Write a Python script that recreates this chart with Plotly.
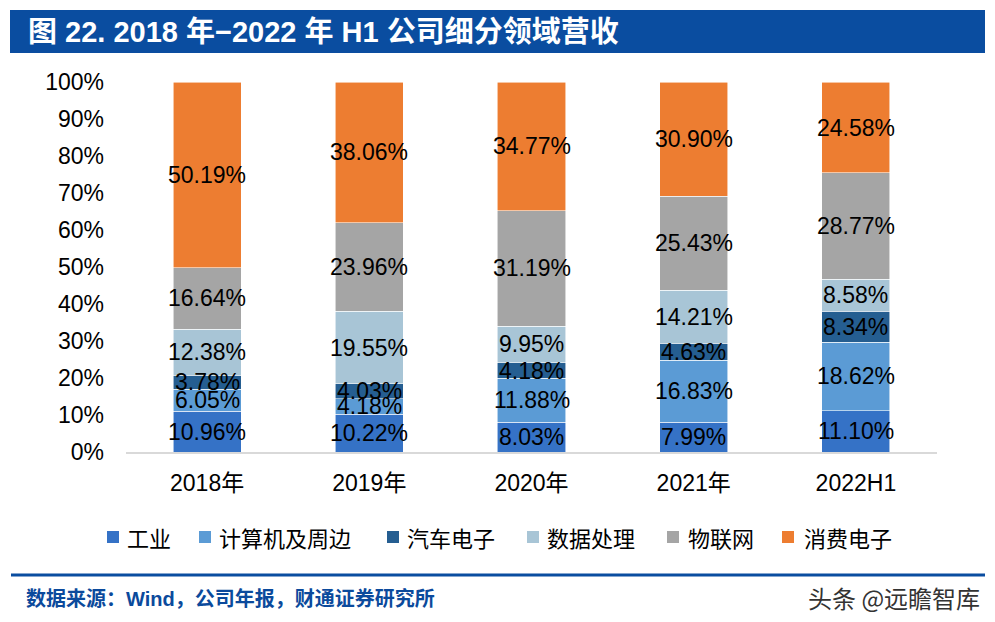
import plotly.graph_objects as go

categories = ["2018年", "2019年", "2020年", "2021年", "2022H1"]
series_names = ["工业", "计算机及周边", "汽车电子", "数据处理", "物联网", "消费电子"]
industrial = [10.96, 10.22, 8.03, 7.99, 11.10]
computer = [6.05, 4.18, 11.88, 16.83, 18.62]
auto = [3.78, 4.03, 4.18, 4.63, 8.34]
data_proc = [12.38, 19.55, 9.95, 14.21, 8.58]
iot = [16.64, 23.96, 31.19, 25.43, 28.77]
consumer = [50.19, 38.06, 34.77, 30.90, 24.58]
y_tick_vals = [0, 10, 20, 30, 40, 50, 60, 70, 80, 90, 100]
y_tick_text = ["0%", "10%", "20%", "30%", "40%", "50%", "60%", "70%", "80%", "90%", "100%"]

series_values = [industrial, computer, auto, data_proc, iot, consumer]
colors = ["#3572C6", "#5B9BD5", "#255E91", "#A8C5D6", "#A5A5A5", "#ED7D31"]

NUM_FONT = "Liberation Sans, Arial, Noto Sans CJK SC, sans-serif"
CJK_FONT = "Noto Sans CJK SC, Liberation Sans, sans-serif"

W, H = 995, 622
ML, MR, MT, MB = 126, 58, 82, 170
PW, PH = W - ML - MR, H - MT - MB


def px(x):
    return (x - ML) / PW


def py(y):
    return 1 - (y - MT) / PH


fig = go.Figure()
for name, vals, col in zip(series_names, series_values, colors):
    fig.add_trace(go.Bar(
        x=categories, y=vals, name=name,
        marker=dict(color=col, line=dict(color="rgba(255,255,255,0.7)", width=0.8)),
        width=0.42, hoverinfo="skip", showlegend=False,
    ))

annotations = []
for i, cat in enumerate(categories):
    base = 0.0
    for vals in series_values:
        v = vals[i]
        annotations.append(dict(
            x=cat, y=base + v / 2, xref="x", yref="y", text=f"{v:.2f}%",
            showarrow=False, font=dict(family=NUM_FONT, size=23, color="#000000"),
        ))
        base += v

# title and footer text
annotations.append(dict(
    x=px(26), y=py(32), xref="paper", yref="paper",
    text="<b>图 22. 2018 年−2022 年 H1 公司细分领域营收</b>",
    showarrow=False, xanchor="left", yanchor="middle",
    font=dict(family=NUM_FONT, size=29, color="#FFFFFF"),
))
annotations.append(dict(
    x=px(24), y=py(598), xref="paper", yref="paper",
    text="<b>数据来源：Wind，公司年报，财通证券研究所</b>",
    showarrow=False, xanchor="left", yanchor="middle",
    font=dict(family=NUM_FONT, size=20, color="#0B4A9C"),
))
annotations.append(dict(
    x=px(982), y=py(597), xref="paper", yref="paper", text="头条 @远瞻智库",
    showarrow=False, xanchor="right", yanchor="middle",
    font=dict(family=CJK_FONT, size=24, color="#333333"),
))

shapes = [
    dict(type="rect", xref="paper", yref="paper",
         x0=px(10), x1=px(985), y0=py(10), y1=py(53),
         fillcolor="#0A4DA0", line=dict(width=0), layer="below"),
    dict(type="line", xref="paper", yref="paper",
         x0=px(11), x1=px(985), y0=py(575), y1=py(575),
         line=dict(color="#0A4DA0", width=3)),
]

# legend (manual, to match spacing of the reference)
legend_marker_left = [107, 199, 387, 527, 667, 782]
legend_text_left = [125, 217, 405, 545, 686, 802]
legend_y = 537
for name, col, mx, tx in zip(series_names, colors, legend_marker_left, legend_text_left):
    shapes.append(dict(type="rect", xref="paper", yref="paper",
                       x0=px(mx), x1=px(mx + 12), y0=py(legend_y - 6), y1=py(legend_y + 6),
                       fillcolor=col, line=dict(width=0)))
    annotations.append(dict(x=px(tx), y=py(legend_y), xref="paper", yref="paper",
                            text=name, showarrow=False, xanchor="left", yanchor="middle",
                            font=dict(family=CJK_FONT, size=22, color="#000000")))

fig.update_layout(
    width=W, height=H,
    margin=dict(l=ML, r=MR, t=MT, b=MB),
    barmode="stack", bargap=0.58,
    plot_bgcolor="#FFFFFF", paper_bgcolor="#FFFFFF",
    showlegend=False,
    annotations=annotations, shapes=shapes,
    xaxis=dict(type="category", showline=True, linecolor="#D9D9D9", linewidth=1.5,
               ticks="", showgrid=False, tickfont=dict(family=NUM_FONT, size=23, color="#000000"),
               ticklabelstandoff=10, fixedrange=True),
    yaxis=dict(range=[0, 100], tickvals=y_tick_vals, ticktext=y_tick_text,
               showgrid=False, zeroline=False, showline=False, ticks="",
               tickfont=dict(family=NUM_FONT, size=23, color="#000000"),
               ticklabelstandoff=21, fixedrange=True),
)

fig.write_html("out.html", config={"displayModeBar": False},
               post_script="document.body.style.margin='0';document.body.style.overflow='hidden';")
